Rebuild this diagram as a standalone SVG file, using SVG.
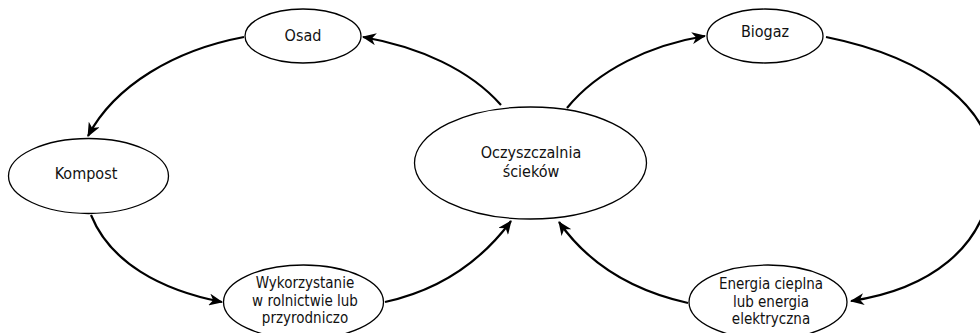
<svg xmlns="http://www.w3.org/2000/svg" width="980" height="333" viewBox="0 0 980 333">
<style>
.node ellipse{fill:#fff;stroke:#000;stroke-width:1.3}
.node text{font-family:"DejaVu Sans Condensed","DejaVu Sans",sans-serif;font-stretch:condensed;font-size:16px;fill:#111;text-anchor:middle}
.node text.ml{font-size:15px}
.edge{fill:none;stroke:#000;stroke-width:2.2;marker-end:url(#arr)}
</style>
<defs>
<marker id="arr" viewBox="0 0 14 12" refX="13" refY="6" markerWidth="14" markerHeight="12" markerUnits="userSpaceOnUse" orient="auto">
<path d="M0,0 L14,6 L0,12 L4,6 Z" fill="#000"/>
</marker>
</defs>
<rect width="980" height="333" fill="#fff"/>
<g id="connectors">
<path class="edge" d="M244,37 C175,50 115,85 88,136"/>
<path class="edge" d="M501,105 C470,70 420,47 363,37"/>
<path class="edge" d="M91,215 C110,262 160,290 222,302"/>
<path class="edge" d="M385,302 C440,290 482,260 511,221"/>
<path class="edge" d="M567,108 C598,70 650,45 705,36"/>
<path class="edge" d="M826,37 C930,58 995,110 992,172 C989,250 925,290 851,301"/>
<path class="edge" d="M688,303 C630,290 587,262 559,222"/>
</g>
<g id="osad" class="node"><ellipse cx="303" cy="36" rx="58" ry="27"/><text x="303" y="41">Osad</text></g>
<g id="kompost" class="node"><ellipse cx="88.5" cy="176" rx="80" ry="37.5"/><text x="86" y="179">Kompost</text></g>
<g id="wykorzystanie" class="node"><ellipse cx="303.5" cy="302" rx="80" ry="37"/><text class="ml" x="305" y="288">Wykorzystanie<tspan x="305" dy="17.5">w rolnictwie lub</tspan><tspan x="305" dy="17.5">przyrodniczo</tspan></text></g>
<g id="oczyszczalnia" class="node"><ellipse cx="530.5" cy="163" rx="116" ry="56"/><text x="531" y="158">Oczyszczalnia<tspan x="531" dy="18.5">ścieków</tspan></text></g>
<g id="biogaz" class="node"><ellipse cx="765" cy="36" rx="58" ry="27"/><text x="765" y="37">Biogaz</text></g>
<g id="energia" class="node"><ellipse cx="768" cy="302" rx="79" ry="37"/><text class="ml" x="771" y="289">Energia cieplna<tspan x="771" dy="17.5">lub energia</tspan><tspan x="771" dy="17.5">elektryczna</tspan></text></g>
</svg>
